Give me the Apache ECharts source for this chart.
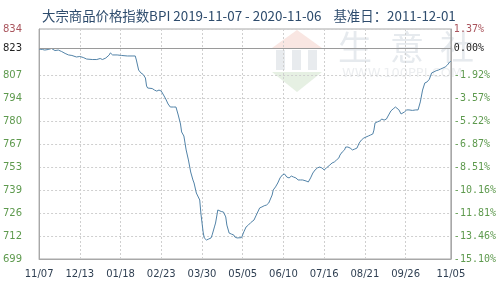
<!DOCTYPE html>
<html>
<head>
<meta charset="utf-8">
<script src="https://cdn.jsdelivr.net/npm/echarts@6/dist/echarts.min.js"></script>
<style>html,body{margin:0;padding:0;background:#fff;}#c{width:499px;height:288px;}</style>
</head>
<body>
<div id="c"></div>
<script>
const titleText = '大宗商品价格指数BPI 2019-11-07 - 2020-11-06    基准日：2011-12-01';
const xTickDays = [0, 36, 72, 108, 144, 180, 216, 252, 288, 324, 364];
const xTickLabels = ['11/07', '12/13', '01/18', '02/23', '03/30', '05/05', '06/10', '07/16', '08/21', '09/26', '11/05'];
const yTickValues = [699, 712.56, 726.12, 739.68, 753.24, 766.8, 780.36, 793.92, 807.48, 823.3, 834.6];
const leftLabels = ['699', '712', '726', '739', '753', '767', '780', '794', '807', '823', '834'];
const rightLabels = ['-15.10%', '-13.46%', '-11.81%', '-10.16%', '-8.51%', '-6.87%', '-5.22%', '-3.57%', '-1.92%', '0.00%', '1.37%'];
const baseValue = 823.3;
const yMin = 699, yMax = 834.6;

const days = [0,3,5,8,11,14,17,20,23,26,29,33,36,39,42,47,51,54,56,59,62,63,65,69,73,78,83,85,86,88,90,92,94,95,96,100,102,104,106,108,110,112,114,116,119,121,123,125,126,128,130,132,134,136,137,139,142,143,145,146,148,150,152,153,155,156,158,159,161,163,165,166,168,170,172,173,175,179,181,183,185,187,188,190,192,195,197,199,201,203,204,206,207,209,211,213,215,217,219,221,223,225,227,229,231,233,236,238,240,242,244,246,248,250,252,254,255,257,259,261,263,265,266,268,270,271,272,273,275,277,279,281,283,285,287,289,291,293,295,296,297,299,301,303,305,307,309,311,313,315,316,318,320,321,323,325,327,330,333,335,337,339,341,343,345,347,349,351,353,355,357,359,361,363,364];
const values = [822.8,822.5,822.2,822.5,823.1,821.9,822.2,821.3,820.2,819.3,819.0,818.1,818.4,817.8,816.9,816.6,816.6,817.2,816.6,817.5,819.3,820.5,819.3,819.3,819.0,818.7,818.7,818.7,816.3,810.4,808.7,807.8,805.7,801.0,799.8,799.5,798.6,798.0,798.6,798.0,795.7,793.3,790.4,788.6,788.6,788.6,783.9,778.6,773.9,771.5,763.3,757.4,750.3,745.6,743.8,737.9,733.8,726.1,714.9,711.4,710.2,710.8,711.4,713.2,717.9,720.2,727.9,728.5,727.0,726.7,723.8,719.0,714.3,713.7,713.2,712.0,711.4,711.6,715.0,717.9,719.0,720.4,719.6,722.0,724.9,729.1,729.7,730.4,730.8,732.0,732.6,736.7,739.7,741.5,743.8,746.8,748.5,749.1,747.3,746.8,747.9,747.3,746.8,745.6,745.6,745.6,745.0,744.4,746.8,749.7,751.5,752.7,753.2,752.7,751.5,752.7,753.2,754.4,755.6,756.2,757.4,758.6,760.3,762.1,763.3,765.0,765.6,765.0,764.4,763.3,763.8,764.4,767.4,769.2,770.3,770.9,771.5,772.1,772.7,775.0,779.2,779.8,780.4,781.5,780.9,781.5,783.9,786.3,787.5,788.6,788.6,787.0,784.5,783.9,785.7,786.9,786.9,786.6,786.9,786.9,791.6,798.6,802.8,803.4,805.0,808.7,809.3,810.0,810.4,811.0,811.6,812.2,813.4,815.2,815.5];

function nearestIdx(arr, v) {
  let best = 0, bd = Infinity;
  arr.forEach((a, i) => { const d = Math.abs(a - v); if (d < bd) { bd = d; best = i; } });
  return best;
}
function yColor(v) {
  const i = nearestIdx(yTickValues, parseFloat(v));
  const t = yTickValues[i];
  if (t > baseValue + 0.5) return '#a9545c';
  if (Math.abs(t - baseValue) < 0.5) return '#222222';
  return '#5e9a4e';
}

const chart = echarts.init(document.getElementById('c'), null, {renderer: 'canvas'});
chart.setOption({
  animation: false,
  backgroundColor: '#ffffff',
  title: {
    text: titleText,
    left: 37, top: 4,
    textStyle: {fontSize: 13.4, fontWeight: 'normal', color: '#2e4c6d', fontFamily: 'Noto Sans CJK SC'}
  },
  graphic: [
    {type: 'polygon', z: -10, shape: {points: [[272, 48], [297, 30], [322, 48]]}, style: {fill: '#f9e6e2'}},
    {type: 'rect', z: -10, shape: {x: 276, y: 50, width: 9, height: 20}, style: {fill: '#e8ebee'}},
    {type: 'rect', z: -10, shape: {x: 292, y: 50, width: 9, height: 20}, style: {fill: '#e8ebee'}},
    {type: 'rect', z: -10, shape: {x: 308, y: 50, width: 9, height: 20}, style: {fill: '#e8ebee'}},
    {type: 'polygon', z: -10, shape: {points: [[272, 72], [322, 72], [297, 92]]}, style: {fill: '#e6f0e3'}},
    {type: 'text', z: -10, left: 338, top: 30, style: {text: '生', fontSize: 34, fontFamily: 'Noto Sans CJK SC', fill: '#e6eaee'}},
    {type: 'text', z: -10, left: 390, top: 30, style: {text: '意', fontSize: 34, fontFamily: 'Noto Sans CJK SC', fill: '#e6eaee'}},
    {type: 'text', z: -10, left: 440, top: 30, style: {text: '社', fontSize: 34, fontFamily: 'Noto Sans CJK SC', fill: '#e6eaee'}},
    {type: 'text', z: -10, left: 342, top: 67, style: {text: 'WWW.100PPI.COM', fontSize: 13, fontFamily: 'DejaVu Sans', fill: '#eceef0'}}
  ],
  grid: {left: 39, right: 47, top: 29, bottom: 29, show: true, borderColor: '#a8a8a8', borderWidth: 1, backgroundColor: 'transparent'},
  xAxis: {
    type: 'value', min: 0, max: 364,
    axisLine: {show: true, lineStyle: {color: '#a8a8a8', width: 1}},
    axisTick: {show: false, customValues: xTickDays},
    axisLabel: {
      customValues: xTickDays, margin: 10,
      formatter: v => xTickLabels[nearestIdx(xTickDays, v)],
      color: '#2f3f52', fontSize: 10, fontFamily: 'DejaVu Sans'
    },
    splitLine: {show: true, lineStyle: {color: '#cfcfcf', type: [2, 2], width: 1}}
  },
  yAxis: [
    {
      type: 'value', min: yMin, max: yMax, position: 'left',
      axisLine: {show: true, lineStyle: {color: '#a8a8a8', width: 1}},
      axisTick: {show: false, customValues: yTickValues},
      axisLabel: {
        customValues: yTickValues, margin: 17,
        formatter: v => leftLabels[nearestIdx(yTickValues, v)],
        color: yColor, fontSize: 10, fontFamily: 'DejaVu Sans'
      },
      splitLine: {show: true, lineStyle: {color: '#cfcfcf', type: [2, 2], width: 1}}
    },
    {
      type: 'value', min: yMin, max: yMax, position: 'right',
      axisLine: {show: true, lineStyle: {color: '#a8a8a8', width: 1}},
      axisTick: {show: false, customValues: yTickValues},
      axisLabel: {
        customValues: yTickValues, margin: 3,
        formatter: v => rightLabels[nearestIdx(yTickValues, v)],
        color: yColor, fontSize: 10, fontFamily: 'DejaVu Sans Mono'
      },
      splitLine: {show: false}
    }
  ],
  series: [{
    type: 'line',
    data: days.map((d, i) => [d, values[i]]),
    showSymbol: false,
    symbol: 'none',
    lineStyle: {color: '#5283a8', width: 1},
    z: 3,
    markLine: {
      silent: true, symbol: 'none', label: {show: false},
      lineStyle: {color: '#9a9a9a', type: 'solid', width: 1},
      data: [{yAxis: baseValue}]
    }
  }]
});
</script>
</body>
</html>
